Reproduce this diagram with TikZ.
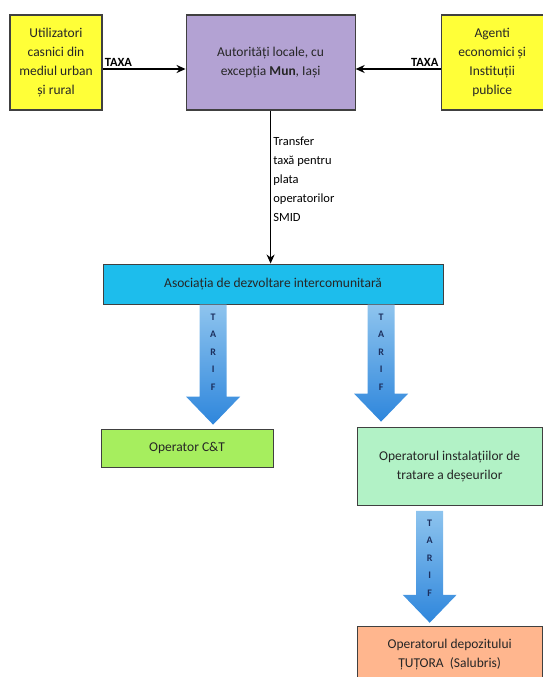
\documentclass[tikz,border=0pt]{standalone}
\usepackage{fontspec}
\setmainfont{Carlito}
\usetikzlibrary{positioning, calc, arrows.meta}

\definecolor{boxyellow}{HTML}{FFFF38}
\definecolor{boxpurple}{HTML}{B3A2D3}
\definecolor{boxcyan}{HTML}{1DBDEC}
\definecolor{boxgreen}{HTML}{A6EE5E}
\definecolor{boxmint}{HTML}{B2F2C6}
\definecolor{boxsalmon}{HTML}{FFB68E}
\definecolor{tarifhi}{HTML}{8EC4EE}
\definecolor{tariflo}{HTML}{2E86DC}
\definecolor{tarifink}{HTML}{1C2F5E}

% fat blue TARIF arrow: start coordinate, tip coordinate
\newcommand{\tarifarrow}[2]{%
    \shade[tarif] ($(#1)+(-13.5,0)$) -- ($(#2)+(-13.5,-28)$) -- ($(#2)+(-27,-28)$) -- (#2)
        -- ($(#2)+(27,-28)$) -- ($(#2)+(13.5,-28)$) -- ($(#1)+(13.5,0)$) -- cycle;
    \node[tarifletters, below=9pt of #1] (#1lbl) {T\\A\\R\\I\\F};
}

\begin{document}
\begin{tikzpicture}[
        x=1pt, y=-1pt,
        box/.style={
            rectangle, draw=black!75, line width=1.1pt, align=center, inner sep=2pt,
            font=\fontsize{13.5}{19}\selectfont, text=black!85
        },
        taxbox/.style={box, fill=boxyellow, minimum height=95pt},
        authbox/.style={box, fill=boxpurple, minimum width=169pt, minimum height=95pt},
        asocbox/.style={box, fill=boxcyan, minimum width=340pt, minimum height=40pt},
        opbox/.style={box, minimum width=185pt},
        arrow/.style={-{Stealth[length=9pt, width=8pt]}, line width=1.5pt, black},
        tarif/.style={top color=tarifhi, bottom color=tariflo, draw=none},
        tarifletters/.style={align=center, inner sep=0pt, text=tarifink,
            font=\fontsize{10}{17.5}\selectfont\bfseries},
        taxlabel/.style={font=\fontsize{12.5}{14}\selectfont\bfseries, inner sep=1.5pt}
    ]
        \useasboundingbox (0,0) rectangle (542,677);

        % Top row
        \node[taxbox, minimum width=92pt] (util) at (56,62.5)
            {Utilizatori\\casnici din\\mediul urban\\și rural};
        \node[authbox, right=83pt of util] (auth)
            {Autorități locale, cu\\excepția \textbf{Mun}, Iași};
        \node[taxbox, minimum width=102pt, right=85pt of auth] (agent)
            {Agenti\\economici și\\Instituții\\publice};

        % Association
        \node[asocbox, below=153pt of auth, xshift=2.5pt] (asoc)
            {Asociația de dezvoltare intercomunitară};

        % Operators
        \node[opbox, fill=boxgreen, minimum width=172pt, minimum height=38pt,
            below right=124pt and -2pt of asoc.south west] (opct) {Operator C\&T};
        \node[opbox, fill=boxmint, minimum height=78pt,
            below right=122pt and -87pt of asoc.south east] (optrat)
            {Operatorul instalațiilor de\\tratare a deșeurilor};
        \node[opbox, fill=boxsalmon, minimum height=56pt, below=120pt of optrat] (opdep)
            {Operatorul depozitului\\ȚUȚORA\ \ (Salubris)};

        % Tax arrows
        \draw[arrow] ([yshift=-6.5pt]util.east) -- ([yshift=-6.5pt]auth.west)
            node[taxlabel, pos=0, above right] {TAXA};
        \draw[arrow] ([yshift=-6.5pt]agent.west) -- ([yshift=-6.5pt]auth.east)
            node[taxlabel, pos=0, above left] {TAXA};

        % Transfer
        \draw[arrow] (auth.south) -- (auth.south |- asoc.north)
            node[pos=0.45, right, align=left, inner sep=2pt,
                font=\fontsize{12.5}{19}\selectfont] (transf)
            {Transfer\\taxă pentru\\plata\\operatorilor\\SMID};

        % Tarif arrows
        \coordinate (ta) at ([xshift=-60pt]asoc.south);
        \path (ta |- opct.north) ++(0,-4) coordinate (tatip);
        \coordinate (tb) at ([xshift=108pt]asoc.south);
        \path (tb |- optrat.north) ++(0,-5) coordinate (tbtip);
        \path (optrat.south) ++(-20,5) coordinate (tc);
        \path (tc |- opdep.north) ++(0,-3) coordinate (tctip);
        \tarifarrow{ta}{tatip}
        \tarifarrow{tb}{tbtip}
        \tarifarrow{tc}{tctip}

    \end{tikzpicture}
\end{document}
